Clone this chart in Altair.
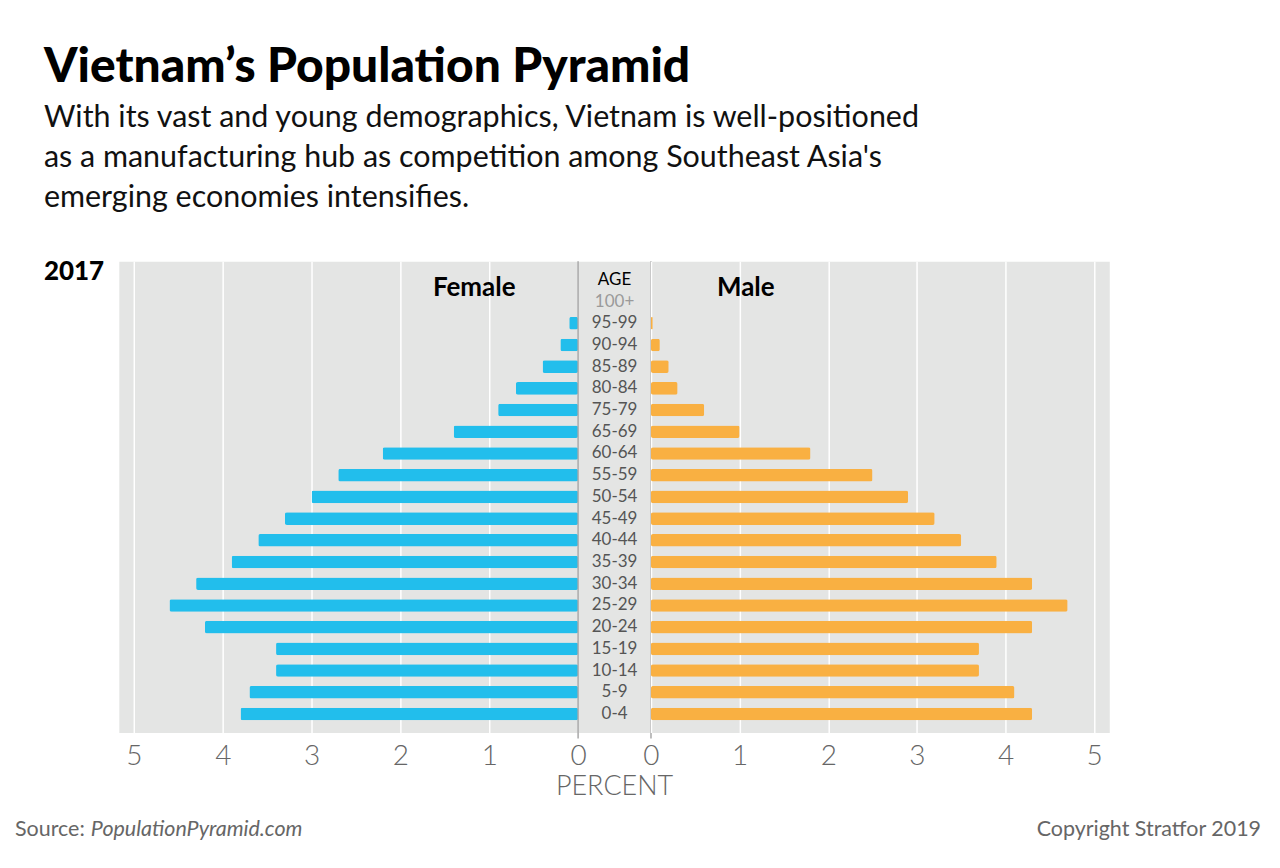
import altair as alt
import pandas as pd

# Age groups (top to bottom) and share of total population, in percent
ages = ["95-99", "90-94", "85-89", "80-84", "75-79", "65-69", "60-64", "55-59",
        "50-54", "45-49", "40-44", "35-39", "30-34", "25-29", "20-24", "15-19",
        "10-14", "5-9", "0-4"]
female = [0.1, 0.2, 0.4, 0.7, 0.9, 1.4, 2.2, 2.7, 3.0, 3.3, 3.6, 3.9, 4.3, 4.6,
          4.2, 3.4, 3.4, 3.7, 3.8]
male = [0.02, 0.1, 0.2, 0.3, 0.6, 1.0, 1.8, 2.5, 2.9, 3.2, 3.5, 3.9, 4.3, 4.7,
        4.3, 3.7, 3.7, 4.1, 4.3]
rows = ["AGE", "100+"] + ages
ticks = [0, 1, 2, 3, 4, 5]

title_text = "Vietnam\u2019s Population Pyramid"
subtitle_lines = [
    "With its vast and young demographics, Vietnam is well-positioned",
    "as a manufacturing hub as competition among Southeast Asia's",
    "emerging economies intensifies.",
]

FONT = "Lato"
BLUE = "#22beec"
ORANGE = "#f9b042"
PANEL_BG = "#e4e5e4"

LEFT_W, MID_W, RIGHT_W, H = 460, 73, 459, 472
XMAX = 5.17

df = pd.DataFrame({"age": ages, "female": female, "male": male})
tones = ["#000000", "#9a9a9a"] + ["#555555"] * len(ages)
labels = pd.DataFrame({"age": rows, "tone": tones})
one = pd.DataFrame({"k": [0]})

yscale = alt.Scale(type="band", domain=rows, paddingInner=0.42, paddingOuter=0.565)
yenc = alt.Y("age:N", scale=yscale, axis=None)


def x_axis():
    return alt.Axis(values=ticks, grid=True, gridColor="white", gridWidth=1.5,
                    domain=False, ticks=False, labelFontSize=28,
                    labelColor="#666666", labelFont=FONT, labelFontWeight=300,
                    labelPadding=10, labelFlush=False, title=None, format="d")


def note(text, x, y, size, color="#000000", weight="normal", align="left",
         style="normal", baseline="alphabetic"):
    return alt.Chart(one).mark_text(
        text=text, font=FONT, fontSize=size, color=color, fontWeight=weight,
        align=align, fontStyle=style, baseline=baseline,
    ).encode(x=alt.value(x), y=alt.value(y))


# Female side: scale runs right-to-left from the centre column
female_bars = alt.Chart(df).mark_bar(color=BLUE, cornerRadius=2).encode(
    x=alt.X("female:Q", scale=alt.Scale(domain=[0, XMAX], reverse=True, nice=False),
            axis=x_axis()),
    y=yenc,
)

# Invisible frame fixing the full page extent around the panels
frame = alt.Chart(one).mark_rect(opacity=0).encode(
    x=alt.value(-118), x2=alt.value(1162), y=alt.value(-260), y2=alt.value(608)
)

left_layers = [
    frame,
    female_bars,
    note("Female", 356, 27, 26, weight="bold", align="center", baseline="middle"),
    note(title_text, -75, -180, 48, weight=900),
    note(subtitle_lines[0], -75, -134, 30.5, color="#111111"),
    note(subtitle_lines[1], -75, -94, 30.5, color="#111111"),
    note(subtitle_lines[2], -75, -54, 30.5, color="#111111"),
    note("2017", -75, 19, 26, weight=900),
    note("Source:", -104, 576, 21.5, color="#666666"),
    note("PopulationPyramid.com", -28, 576, 21.5, color="#666666", style="italic"),
    note("Copyright Stratfor 2019", 1144, 576, 21.5, color="#666666", align="right"),
]
left = alt.layer(*left_layers).properties(width=LEFT_W, height=H)

# Centre column with age labels and divider lines
age_text = alt.Chart(labels).mark_text(font=FONT, fontSize=17, baseline="middle").encode(
    x=alt.value(MID_W / 2),
    y=yenc,
    text="age:N",
    color=alt.Color("tone:N", scale=None),
)
divider_l = alt.Chart(one).mark_rule(color="#a8a8a8", strokeWidth=1.5).encode(
    x=alt.value(0), y=alt.value(0), y2=alt.value(H + 6))
divider_r = alt.Chart(one).mark_rule(color="#a8a8a8", strokeWidth=1.5).encode(
    x=alt.value(MID_W), y=alt.value(0), y2=alt.value(H + 6))
percent = note("PERCENT", MID_W / 2, 527, 27, color="#666666", weight=300,
               align="center", baseline="middle")
mid = alt.layer(age_text, divider_l, divider_r, percent).properties(width=MID_W, height=H)

# Male side
male_bars = alt.Chart(df).mark_bar(color=ORANGE, cornerRadius=2).encode(
    x=alt.X("male:Q", scale=alt.Scale(domain=[0, XMAX], nice=False), axis=x_axis()),
    y=yenc,
)
right = alt.layer(
    male_bars,
    note("Male", 95, 27, 26, weight="bold", align="center", baseline="middle"),
).properties(width=RIGHT_W, height=H)

chart = alt.hconcat(left, mid, right, spacing=0, bounds="flush").properties(
    padding=0
).configure(background="white").configure_view(fill=PANEL_BG, stroke="transparent")

chart.save("out.html", embed_options={"renderer": "svg", "actions": False})
